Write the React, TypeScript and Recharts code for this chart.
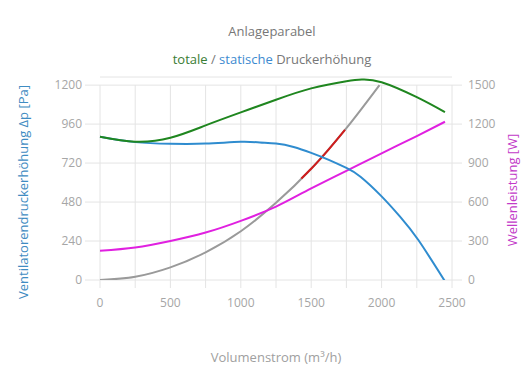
import { ComposedChart, Line, XAxis, YAxis, CartesianGrid, ReferenceLine } from "recharts";

// total pressure rise (green)
const flowTotal = [0, 250, 500, 750, 1000, 1250, 1500, 1750, 1860, 2000, 2250, 2450];
const pressureTotal = [882, 852, 876, 952, 1032, 1110, 1180, 1224, 1235, 1218, 1126, 1034];

// static pressure rise (blue)
const flowStatic = [0, 250, 500, 750, 1000, 1136, 1250, 1375, 1500, 1625, 1750, 1850, 2000, 2131, 2261, 2450];
const pressureStatic = [882, 849, 839, 840, 851, 847, 840, 819, 783, 740, 690, 636, 515, 390, 246, -8];

// shaft power (magenta, right axis)
const flowPower = [0, 250, 500, 750, 1000, 1250, 1500, 1750, 2000, 2250, 2450];
const power = [225, 250, 300, 365, 455, 565, 705, 840, 975, 1108, 1218];

// system curve (grey) and operating range (red)
const flowSystem = [0, 250, 500, 750, 1000, 1250, 1500, 1750, 1985];
const pressureSystem = [0, 20, 78, 170, 300, 475, 685, 935, 1200];
const flowOperating = [1430, 1500, 1600, 1740];
const pressureOperating = [625, 685, 780, 925];

const xTicks = [0, 250, 500, 750, 1000, 1250, 1500, 1750, 2000, 2250, 2500];
const leftTicks = [0, 240, 480, 720, 960, 1200];
const rightTicks = [0, 300, 600, 900, 1200, 1500];

const zip = (xs: number[], ys: number[]) => xs.map((x, i) => ({ x, y: ys[i] }));

const totalData = zip(flowTotal, pressureTotal);
const staticData = zip(flowStatic, pressureStatic);
const powerData = zip(flowPower, power);
const systemData = zip(flowSystem, pressureSystem);
const operatingData = zip(flowOperating, pressureOperating);

const FONT = "'Open Sans', 'Noto Sans', sans-serif";
const GRID = "#e4e4e4";
const TICK = { fill: "#a6a6a6", fontSize: 12, fontFamily: FONT };

export default function App() {
  return (
    <div style={{ position: "absolute", left: 0, top: 0, width: 530, height: 390, background: "#fff", fontFamily: FONT }}>
      <div style={{ position: "absolute", left: 272, top: 31, transform: "translate(-50%, -50%)", fontSize: 13, color: "#777", whiteSpace: "nowrap" }}>
        Anlageparabel
      </div>
      <div style={{ position: "absolute", left: 272, top: 59, transform: "translate(-50%, -50%)", fontSize: 13, color: "#777", whiteSpace: "nowrap" }}>
        <span style={{ color: "#3a7d34" }}>totale</span> / <span style={{ color: "#3d8ad0" }}>statische</span> Druckerhöhung
      </div>

      {/* the top of the plot sits a little above 1200 so the green peak is not clipped */}
      <ComposedChart width={530} height={390} margin={{ top: 77, right: 0, bottom: 80, left: 0 }}>
        <CartesianGrid stroke={GRID} yAxisId="left" vertical={false} />
        {xTicks.map((t) => (
          <ReferenceLine
            key={t}
            yAxisId="left"
            segment={[{ x: t, y: 0 }, { x: t, y: 1200 }]}
            stroke={GRID}
          />
        ))}
        <XAxis
          dataKey="x"
          type="number"
          domain={[0, 2500]}
          ticks={xTicks}
          interval={0}
          tickFormatter={(v: number) => (v % 500 === 0 ? String(v) : "")}
          axisLine={false}
          tickLine={{ stroke: GRID }}
          tickSize={8}
          tickMargin={10}
          height={30}
          tick={TICK}
          allowDuplicatedCategory={false}
        />
        <YAxis
          yAxisId="left"
          orientation="left"
          domain={[0, 1250]}
          ticks={leftTicks}
          interval={0}
          allowDataOverflow
          axisLine={false}
          tickLine={{ stroke: GRID }}
          tickSize={15}
          tickMargin={3}
          width={100}
          tick={TICK}
        />
        <YAxis
          yAxisId="right"
          orientation="right"
          domain={[0, 1562.5]}
          ticks={rightTicks}
          interval={0}
          allowDataOverflow
          axisLine={false}
          tickLine={{ stroke: GRID }}
          tickSize={10}
          tickMargin={6}
          width={78}
          tick={{ ...TICK, textAnchor: "start" }}
        />
        <Line data={systemData} yAxisId="left" dataKey="y" type="monotone" stroke="#9a9a9a" strokeWidth={2} dot={false} isAnimationActive={false} />
        <Line data={operatingData} yAxisId="left" dataKey="y" type="monotone" stroke="#d01c1c" strokeWidth={2} dot={false} isAnimationActive={false} />
        <Line data={powerData} yAxisId="right" dataKey="y" type="monotone" stroke="#e020e0" strokeWidth={2} dot={false} isAnimationActive={false} />
        <Line data={staticData} yAxisId="left" dataKey="y" type="natural" stroke="#2f8ccf" strokeWidth={2} dot={false} isAnimationActive={false} />
        <Line data={totalData} yAxisId="left" dataKey="y" type="natural" stroke="#1f861f" strokeWidth={2} dot={false} isAnimationActive={false} />
      </ComposedChart>

      <div style={{ position: "absolute", left: 276, top: 357, transform: "translate(-50%, -50%)", fontSize: 13, color: "#a0a0a0", whiteSpace: "nowrap" }}>
        Volumenstrom (m³/h)
      </div>
      <div style={{ position: "absolute", left: 23, top: 192, transform: "translate(-50%, -50%) rotate(-90deg)", fontSize: 13, color: "#3f8cc2", whiteSpace: "nowrap" }}>
        Ventilatorendruckerhöhung Δp [Pa]
      </div>
      <div style={{ position: "absolute", left: 512, top: 190, transform: "translate(-50%, -50%) rotate(-90deg)", fontSize: 13, color: "#c23ac8", whiteSpace: "nowrap" }}>
        Wellenleistung [W]
      </div>
    </div>
  );
}
